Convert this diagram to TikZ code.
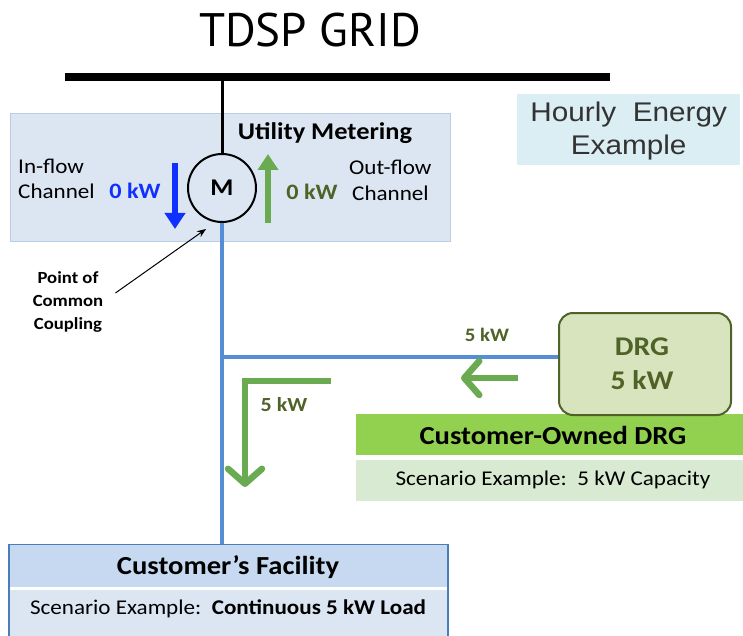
\documentclass[tikz,border=0pt]{standalone}
\usepackage{fontspec}
\usetikzlibrary{arrows.meta}
\newfontfamily\calf[FakeStretch=1.1]{Carlito}
\newfontfamily\arif[FakeStretch=1.1]{Liberation Sans}
\newfontfamily\ptsf{PT Sans}
\definecolor{meterfill}{HTML}{DCE6F2}
\definecolor{meterdraw}{HTML}{B9CDE5}
\definecolor{lineblue}{HTML}{558ED5}
\definecolor{arrblue}{HTML}{1030FF}
\definecolor{arrgreen}{HTML}{6AAA50}
\definecolor{olive}{HTML}{4F6228}
\definecolor{drgfill}{HTML}{D7E4BD}
\definecolor{banner}{HTML}{92D050}
\definecolor{scengreen}{HTML}{D9EAD3}
\definecolor{fachead}{HTML}{C6D9F1}
\definecolor{facbody}{HTML}{DCE6F2}
\definecolor{facborder}{HTML}{4A7EBB}
\definecolor{hourly}{HTML}{DBEEF3}
\definecolor{hourtext}{HTML}{333333}
\tikzset{
  lbl/.style={inner sep=0pt, font=\calf\fontsize{21}{25}\selectfont},
  blbl/.style={inner sep=0pt, font=\calf\bfseries\fontsize{20}{24}\selectfont},
  boxnode/.style={inner sep=0pt, anchor=north west},
  feed/.style={lineblue, line width=3.5pt},
  fatarrow/.style={line width=6pt, -{Triangle[length=16pt,width=20pt]}},
  barbarrow/.style={arrgreen, line width=6.5pt, line join=miter,
     -{Straight Barb[length=15pt,width=34pt,line width=6.5pt,round]}},
}
\begin{document}
\begin{tikzpicture}[x=1pt,y=-1pt]
\useasboundingbox (0,0) rectangle (743,636);

% title and grid bus
\node[inner sep=0pt, font=\ptsf\fontsize{47}{50}\selectfont] (title) at (310,30) {TDSP GRID};
\coordinate (busL) at (65,77);
\coordinate (busR) at (610,77);
\coordinate (busTap) at (222,77);
\draw[line width=8pt] (busL) -- (busR);

% hourly box
\node[boxnode, fill=hourly, minimum width=223pt, minimum height=71pt] (hour) at (517,94) {};
\node[inner sep=0pt, align=center, text=hourtext, font=\arif\fontsize{27}{33}\selectfont] (hourtxt) at ([yshift=-1pt]hour.center) {Hourly\ \ Energy\\Example};

% utility metering box
\node[boxnode, fill=meterfill, draw=meterdraw, line width=1pt, minimum width=440pt, minimum height=128pt] (meterbox) at (10,113) {};
\node[blbl, font=\calf\bfseries\fontsize{24}{28}\selectfont] (umtitle) at (325,133) {Utility Metering};
\node[circle, draw, line width=2pt, minimum size=68pt, inner sep=0pt, font=\calf\bfseries\fontsize{24}{28}\selectfont] (M) at (222,188) {M};
\draw[line width=3pt] (busTap) -- (M.north);

\node[lbl, anchor=west] (inflow1) at (18,166) {In-flow};
\node[lbl, anchor=west] (inflow2) at (18,191) {Channel};
\node[blbl, text=arrblue, font=\calf\bfseries\fontsize{22}{24}\selectfont] (inkw) at (135,191) {0 kW};
\coordinate (inA) at (175,163);
\coordinate (inB) at (175,229);
\draw[fatarrow, arrblue] (inA) -- (inB);

\coordinate (outA) at (268,223);
\coordinate (outB) at (268,154);
\draw[fatarrow, arrgreen] (outA) -- (outB);
\node[blbl, text=olive, font=\calf\bfseries\fontsize{22}{24}\selectfont] (outkw) at (312,192) {0 kW};
\node[lbl, anchor=west] (outflow1) at (349,167) {Out-flow};
\node[lbl, anchor=west] (outflow2) at (352,193) {Channel};

% customer owned DRG
\node[boxnode, fill=banner, minimum width=387pt, minimum height=41pt] (banner) at (356,414) {};
\node[blbl, font=\calf\bfseries\fontsize{26}{30}\selectfont] (bannertxt) at (553,435) {Customer-Owned DRG};
\node[boxnode, fill=scengreen, minimum width=387pt, minimum height=41pt] (scen) at (356,460) {};
\node[lbl] (scentxt) at (553,480) {Scenario Example:\ \ 5 kW Capacity};
\node[boxnode, rounded corners=14pt, fill=drgfill, draw=olive, line width=2pt, minimum width=172pt, minimum height=102pt] (drg) at (558,312) {};
\node[inner sep=0pt, align=center, text=olive, font=\calf\bfseries\fontsize{27}{34}\selectfont] (drgtxt) at (642,364) {DRG\\5 kW};

% customer facility
\node[boxnode, fill=facbody, draw=facborder, line width=1.6pt, minimum width=439pt, minimum height=110pt] (fac) at (8,544) {};
\node[inner sep=0pt, anchor=north, fill=fachead, minimum width=437pt, minimum height=43pt] (fachd) at ([yshift=-0.8pt]fac.north) {};
\draw[white, line width=3pt] ([xshift=0.2pt]fachd.south west) -- ([xshift=-0.2pt]fachd.south east);
\node[blbl, font=\calf\bfseries\fontsize{26}{30}\selectfont] (factitle) at (228,567) {Customer’s Facility};
\node[lbl] (factxt) at (228,609) {Scenario Example:\ \ \textbf{Continuous 5 kW Load}};

% feeder lines
\coordinate (junction) at (222,357);
\draw[feed] (M.south) -- (M.south |- fac.north);
\draw[feed] (junction) -- (junction -| drg.west);

% point of common coupling
\node[blbl, align=center, font=\calf\bfseries\fontsize{17}{23}\selectfont] (pcc) at (68,302) {Point of\\Common\\Coupling};
\coordinate (pccTip) at (206,229);
\draw[line width=1pt, -{Stealth[length=9pt,width=7pt]}] ([xshift=12pt,yshift=9pt]pcc.east) -- (pccTip);

% DRG flow
\node[blbl, text=olive, font=\calf\bfseries\fontsize{19}{22}\selectfont] (drgkw) at (487,335) {5 kW};
\coordinate (lA) at (518,378);
\coordinate (lB) at (461,378);
\draw[barbarrow] (lA) -- (lB);

% load flow
\coordinate (dA) at (331,381);
\coordinate (dC) at (245,381);
\coordinate (dB) at (245,487);
\draw[barbarrow] (dA) -- (dC) -- (dB);
\node[blbl, text=olive, font=\calf\bfseries\fontsize{20}{22}\selectfont] (loadkw) at (284,405) {5 kW};

\end{tikzpicture}
\end{document}
